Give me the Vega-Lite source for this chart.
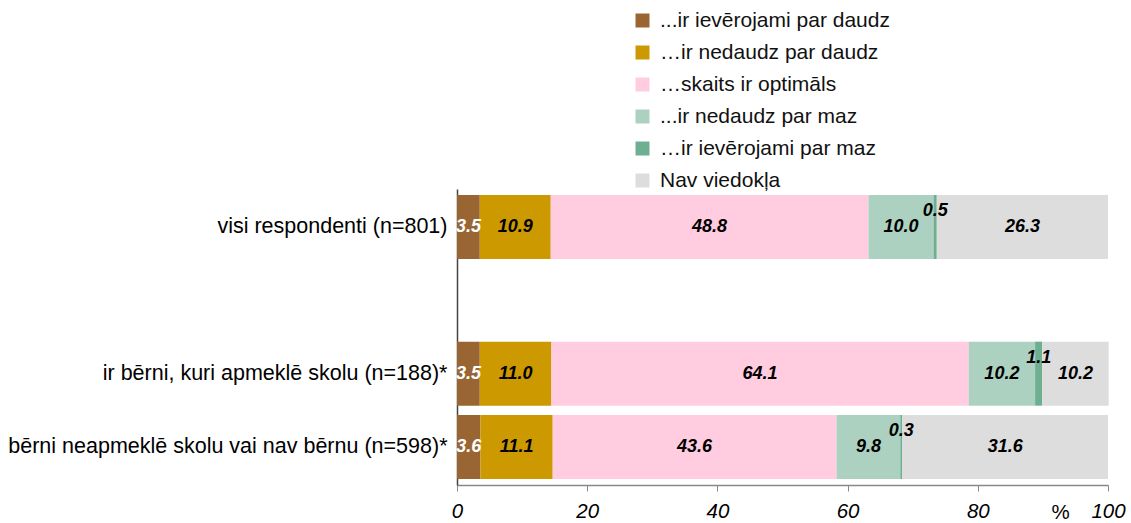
{
  "$schema": "https://vega.github.io/schema/vega-lite/v6.json",
  "width": 651,
  "height": 296,
  "autosize": {"type": "none"},
  "padding": {"left": 457, "top": 189, "right": 23, "bottom": 38},
  "background": "white",
  "config": {
    "font": "Liberation Sans",
    "view": {"stroke": null},
    "axis": {"grid": false}
  },
  "data": {
    "values": [
      {"group": "visi respondenti (n=801)", "cat": "...ir ievērojami par daudz", "k": 1, "value": 3.5},
      {"group": "visi respondenti (n=801)", "cat": "…ir nedaudz par daudz", "k": 2, "value": 10.9},
      {"group": "visi respondenti (n=801)", "cat": "…skaits ir optimāls", "k": 3, "value": 48.8},
      {"group": "visi respondenti (n=801)", "cat": "...ir nedaudz par maz", "k": 4, "value": 10.0},
      {"group": "visi respondenti (n=801)", "cat": "…ir ievērojami par maz", "k": 5, "value": 0.5},
      {"group": "visi respondenti (n=801)", "cat": "Nav viedokļa", "k": 6, "value": 26.3},
      {"group": "ir bērni, kuri apmeklē skolu (n=188)*", "cat": "...ir ievērojami par daudz", "k": 1, "value": 3.5},
      {"group": "ir bērni, kuri apmeklē skolu (n=188)*", "cat": "…ir nedaudz par daudz", "k": 2, "value": 11.0},
      {"group": "ir bērni, kuri apmeklē skolu (n=188)*", "cat": "…skaits ir optimāls", "k": 3, "value": 64.1},
      {"group": "ir bērni, kuri apmeklē skolu (n=188)*", "cat": "...ir nedaudz par maz", "k": 4, "value": 10.2},
      {"group": "ir bērni, kuri apmeklē skolu (n=188)*", "cat": "…ir ievērojami par maz", "k": 5, "value": 1.1},
      {"group": "ir bērni, kuri apmeklē skolu (n=188)*", "cat": "Nav viedokļa", "k": 6, "value": 10.2},
      {"group": "bērni neapmeklē skolu vai nav bērnu (n=598)*", "cat": "...ir ievērojami par daudz", "k": 1, "value": 3.6},
      {"group": "bērni neapmeklē skolu vai nav bērnu (n=598)*", "cat": "…ir nedaudz par daudz", "k": 2, "value": 11.1},
      {"group": "bērni neapmeklē skolu vai nav bērnu (n=598)*", "cat": "…skaits ir optimāls", "k": 3, "value": 43.6},
      {"group": "bērni neapmeklē skolu vai nav bērnu (n=598)*", "cat": "...ir nedaudz par maz", "k": 4, "value": 9.8},
      {"group": "bērni neapmeklē skolu vai nav bērnu (n=598)*", "cat": "…ir ievērojami par maz", "k": 5, "value": 0.3},
      {"group": "bērni neapmeklē skolu vai nav bērnu (n=598)*", "cat": "Nav viedokļa", "k": 6, "value": 31.6}
    ]
  },
  "transform": [
    {"stack": "value", "groupby": ["group"], "sort": [{"field": "k", "order": "ascending"}], "as": ["x0", "x1"]},
    {"calculate": "(datum.x0 + datum.x1) / 2", "as": "mid"}
  ],
  "encoding": {
    "y": {
      "field": "group",
      "type": "nominal",
      "title": null,
      "scale": {
        "domain": ["visi respondenti (n=801)", " ", "ir bērni, kuri apmeklē skolu (n=188)*", "bērni neapmeklē skolu vai nav bērnu (n=598)*"],
        "paddingInner": 0.127,
        "paddingOuter": 0.082
      },
      "axis": {
        "ticks": false,
        "labelFontSize": 21.5,
        "labelColor": "#000000",
        "labelPadding": 10,
        "labelLimit": 500,
        "domainColor": "#444444",
        "domainWidth": 1.5
      }
    }
  },
  "layer": [
    {
      "mark": {"type": "bar", "stroke": null},
      "encoding": {
        "x": {
          "field": "x0",
          "type": "quantitative",
          "scale": {"domain": [0, 100], "nice": false},
          "axis": {
            "values": [0, 20, 40, 60, 80, 100],
            "labelFlush": false,
            "labelOverlap": false,
            "labelFontSize": 20.5,
            "labelFontStyle": "italic",
            "labelColor": "#000000",
            "labelPadding": 10,
            "tickSize": 6,
            "tickColor": "#888888",
            "domainColor": "#888888",
            "domainWidth": 1.5,
            "title": "%",
            "titleFontSize": 20.5,
            "titleFontWeight": "normal",
            "titleColor": "#000000",
            "titleX": 603,
            "titleY": 27,
            "titleBaseline": "middle",
            "titleAlign": "center"
          }
        },
        "x2": {"field": "x1"},
        "color": {
          "field": "cat",
          "type": "nominal",
          "scale": {
            "domain": ["...ir ievērojami par daudz", "…ir nedaudz par daudz", "…skaits ir optimāls", "...ir nedaudz par maz", "…ir ievērojami par maz", "Nav viedokļa"],
            "range": ["#996633", "#CC9900", "#FFCCE0", "#ACD1C1", "#6FAF91", "#DDDDDD"]
          },
          "legend": {
            "title": null,
            "orient": "none",
            "legendX": 175,
            "legendY": -179,
            "symbolType": "square",
            "symbolSize": 196,
            "symbolStrokeWidth": 0,
            "labelFontSize": 21,
            "labelColor": "#111111",
            "labelOffset": 7,
            "rowPadding": 10,
            "labelLimit": 400
          }
        }
      }
    },
    {
      "transform": [{"filter": "datum.k != 5"}],
      "mark": {"type": "text", "fontSize": 18, "fontWeight": "bold", "fontStyle": "italic", "baseline": "middle", "align": "center"},
      "encoding": {
        "x": {"field": "mid", "type": "quantitative"},
        "text": {"field": "value", "type": "quantitative", "format": ".1f"},
        "color": {"condition": {"test": "datum.k == 1", "value": "#FFFFFF"}, "value": "#000000"}
      }
    },
    {
      "transform": [{"filter": "datum.k == 5"}],
      "mark": {"type": "text", "fontSize": 18, "fontWeight": "bold", "fontStyle": "italic", "baseline": "middle", "align": "center", "dy": -16, "color": "#000000"},
      "encoding": {
        "x": {"field": "mid", "type": "quantitative"},
        "text": {"field": "value", "type": "quantitative", "format": ".1f"}
      }
    }
  ]
}
